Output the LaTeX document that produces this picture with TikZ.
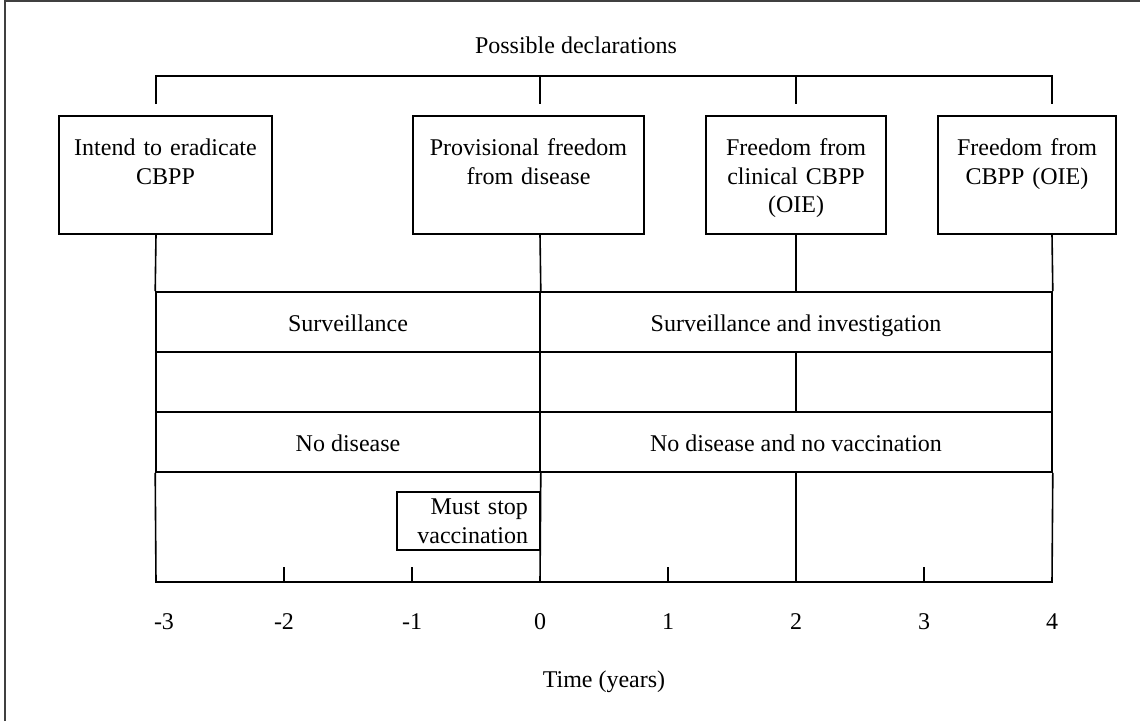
\documentclass[tikz,border=0pt]{standalone}
\usepackage{fontspec}
\setmainfont{Liberation Serif}
\tikzstyle{declbox}=[draw, rectangle, inner sep=0pt, align=center, text height=40pt, text depth=78pt]
\tikzstyle{band}=[draw, rectangle, inner sep=0pt, minimum height=60pt, text height=18pt, text depth=0pt]
\tikzstyle{stopbox}=[draw, rectangle, inner xsep=12pt, text width=119pt, align=right, minimum height=58pt]
\tikzset{every picture/.style={
    line width=1.6
  }
}

\begin{document}
\begin{tikzpicture}[x=1pt, y=-1pt, font=\fontsize{24}{28.5}\selectfont]
        \useasboundingbox (0,0) rectangle (1140,721);
        \draw[black!75] (5,721) -- (5,1) -- (1140,1);
        % points on the time axis
        \foreach \yr in {-3,...,4}
          \coordinate (t\yr) at ({540+128*\yr},582);
        \coordinate (bartop) at (0,76);
        \coordinate (barend) at (0,104);
        % declarations
        \node at (576,45) (declar) {Possible declarations};
        \node[declbox, text width=213pt, anchor=north] at (165.5,115) (intend) {Intend to eradicate\\CBPP};
        \node[declbox, text width=231pt, anchor=north] at (528.5,115) (provis) {Provisional freedom\\from disease};
        \node[declbox, text width=180pt, anchor=north] at (796,115) (clinical) {Freedom from\\clinical CBPP\\(OIE)};
        \node[declbox, text width=178pt, anchor=north] at (1027,115) (freecbpp) {Freedom from\\CBPP (OIE)};
        \draw (barend -| t-3) |- (bartop -| t4) -- (barend -| t4);
        \foreach \yr in {0,2}
          \draw (bartop -| t\yr) -- (barend -| t\yr);
        % requirements
        \node[band, minimum width=384pt] at (348,322) (surv) {Surveillance};
        \node[band, minimum width=512pt] at (796,322) (survinv) {Surveillance and investigation};
        \node[band, minimum width=384pt] at (348,442) (nodis) {No disease};
        \node[band, minimum width=512pt] at (796,442) (nodisvac) {No disease and no vaccination};
        \draw (intend.south -| t-3) -- (surv.north west);
        \draw (provis.south -| t0) -- (surv.north east);
        \draw (clinical.south) -- (survinv.north);
        \draw (freecbpp.south -| t4) -- (survinv.north east);
        \foreach \yr in {-3,0,2,4}
          \draw (surv.south -| t\yr) -- (nodis.north -| t\yr);
        \draw (nodis.south west) -- (t-3) -- (t4) -- (nodisvac.south east);
        \draw (nodis.south east) -- (t0);
        \draw (nodisvac.south) -- (t2);
        \node[stopbox] at (468.5,521) (muststop) {Must stop\\vaccination};
        % axis
        \foreach \yr in {-2,-1,1,3}
          \draw (t\yr) -- ++(0,-15);
        \node at ([xshift=8pt, yshift=-40pt]t-3) (lab-3) {-3};
        \foreach \yr in {-2,...,4}
          \node at ([yshift=-40pt]t\yr) (lab\yr) {\yr};
        \node at (604,682) (timelab) {Time (years)};
      \end{tikzpicture}
\end{document}
